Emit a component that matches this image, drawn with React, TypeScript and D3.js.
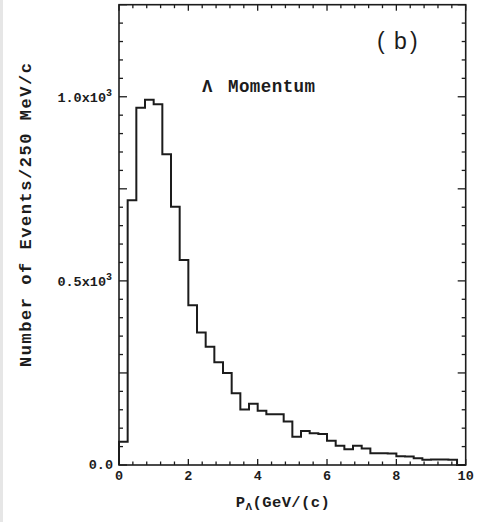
import React from "react";
import * as d3 from "d3";

// Lambda momentum histogram, 250 MeV/c bins (lower edges in GeV/c)
const binLowEdges = [
  0, 0.25, 0.5, 0.75, 1.0, 1.25, 1.5, 1.75, 2.0, 2.25,
  2.5, 2.75, 3.0, 3.25, 3.5, 3.75, 4.0, 4.25, 4.5, 4.75,
  5.0, 5.25, 5.5, 5.75, 6.0, 6.25, 6.5, 6.75, 7.0, 7.25,
  7.5, 7.75, 8.0, 8.25, 8.5, 8.75, 9.0, 9.25, 9.5, 9.75,
];
const binCounts = [
  63, 719, 970, 992, 980, 844, 701, 557, 434, 360,
  321, 279, 250, 195, 151, 166, 147, 138, 138, 118,
  77, 92, 86, 84, 66, 52, 43, 52, 45, 32,
  32, 31, 24, 23, 18, 14, 15, 15, 14, 0,
];
const binWidth = 0.25;

const xTickLabels = [0, 2, 4, 6, 8, 10];
const yTickLabels = [
  { v: 0, base: "0.0", sup: "" },
  { v: 500, base: "0.5x10", sup: "3" },
  { v: 1000, base: "1.0x10", sup: "3" },
];

const W = 477;
const H = 522;
const INK = "#1c1c1c";
const MONO = "'Liberation Mono', 'DejaVu Sans Mono', monospace";

export default function App() {
  const x = d3.scaleLinear().domain([0, 10]).range([119, 465.7]);
  const y = d3.scaleLinear().domain([0, 1250]).range([465, 4.7]);

  const pts: [number, number][] = [[0, 0]];
  binLowEdges.forEach((e, i) => pts.push([e, binCounts[i]]));
  pts.push([binLowEdges[binLowEdges.length - 1] + binWidth, 0]);
  const line = d3
    .line<[number, number]>()
    .x((d) => x(d[0]))
    .y((d) => y(d[1]))
    .curve(d3.curveStepAfter);
  const histPath = line(pts) || "";

  const xMinor = d3.range(0, 10.001, 0.4);
  const yMinor = d3.range(0, 1250.1, 50);
  const isXMajor = (v: number) => Math.abs(v / 2 - Math.round(v / 2)) < 1e-6;
  const isYMajor = (v: number) => v % 250 === 0;

  const [x0, x1] = x.range();
  const [yb, yt] = y.range();

  return (
    <svg
      width={W}
      height={H}
      style={{ position: "absolute", left: 0, top: 0, background: "#fff" }}
    >
      <rect x={0} y={0} width={W} height={H} fill="#fff" />
      <rect x={0} y={0} width={3} height={H} fill="#e6e6e6" />

      {/* ticks */}
      {xMinor.map((v, i) => {
        const L = isXMajor(v) ? 6 : 3.5;
        return (
          <g key={"xt" + i} stroke={INK} strokeWidth={1.3}>
            <line x1={x(v)} x2={x(v)} y1={yb} y2={yb - L} />
            <line x1={x(v)} x2={x(v)} y1={yt} y2={yt + L} />
          </g>
        );
      })}
      {yMinor.map((v, i) => {
        const L = isYMajor(v) ? 8 : 4;
        return (
          <g key={"yt" + i} stroke={INK} strokeWidth={1.3}>
            <line x1={x0} x2={x0 + L} y1={y(v)} y2={y(v)} />
            <line x1={x1} x2={x1 - L} y1={y(v)} y2={y(v)} />
          </g>
        );
      })}

      {/* frame */}
      <rect
        x={x0}
        y={yt}
        width={x1 - x0}
        height={yb - yt}
        fill="none"
        stroke={INK}
        strokeWidth={1.6}
      />

      {/* histogram */}
      <path d={histPath} fill="none" stroke={INK} strokeWidth={2} />

      {/* x tick labels */}
      {xTickLabels.map((v) => (
        <text
          key={"xl" + v}
          x={x(v)}
          y={480}
          textAnchor="middle"
          fontFamily={MONO}
          fontWeight="bold"
          fontSize={13.5}
          fill={INK}
        >
          {v}
        </text>
      ))}

      {/* y tick labels */}
      {yTickLabels.map((t) => (
        <text
          key={"yl" + t.v}
          x={t.sup ? 112 : 113}
          y={y(t.v) + (t.v === 0 ? 3.5 : 5)}
          textAnchor="end"
          fontFamily={MONO}
          fontWeight="bold"
          fontSize={13.5}
          fill={INK}
        >
          {t.base}
          {t.sup ? (
            <tspan fontSize={10} dy={-6}>
              {t.sup}
            </tspan>
          ) : null}
        </text>
      ))}

      {/* panel label */}
      <g
        fontFamily="'Liberation Sans', Arial, sans-serif"
        fontSize={23}
        fill={INK}
      >
        <text x={377} y={49}>(</text>
        <text x={394} y={49}>b</text>
        <text x={410} y={49}>)</text>
      </g>

      {/* annotation */}
      <g fontFamily={MONO} fontWeight="bold" fontSize={17.5} fill={INK}>
        <text x={202} y={92}>Λ</text>
        <text x={228} y={92} textLength={87} lengthAdjust="spacing">
          Momentum
        </text>
      </g>

      {/* x axis title */}
      <text
        x={283}
        y={507}
        textAnchor="middle"
        fontFamily={MONO}
        fontWeight="bold"
        fontSize={15.5}
        fill={INK}
        letterSpacing={0.4}
      >
        P
        <tspan fontSize={11} dy={3}>
          Λ
        </tspan>
        <tspan dy={-3}>(GeV/(c)</tspan>
      </text>

      {/* y axis title */}
      <text
        transform={`translate(31,215) rotate(-90)`}
        textAnchor="middle"
        fontFamily={MONO}
        fontWeight="bold"
        fontSize={17}
        fill={INK}
        textLength={304}
        lengthAdjust="spacing"
      >
        Number of Events/250 MeV/c
      </text>
    </svg>
  );
}
